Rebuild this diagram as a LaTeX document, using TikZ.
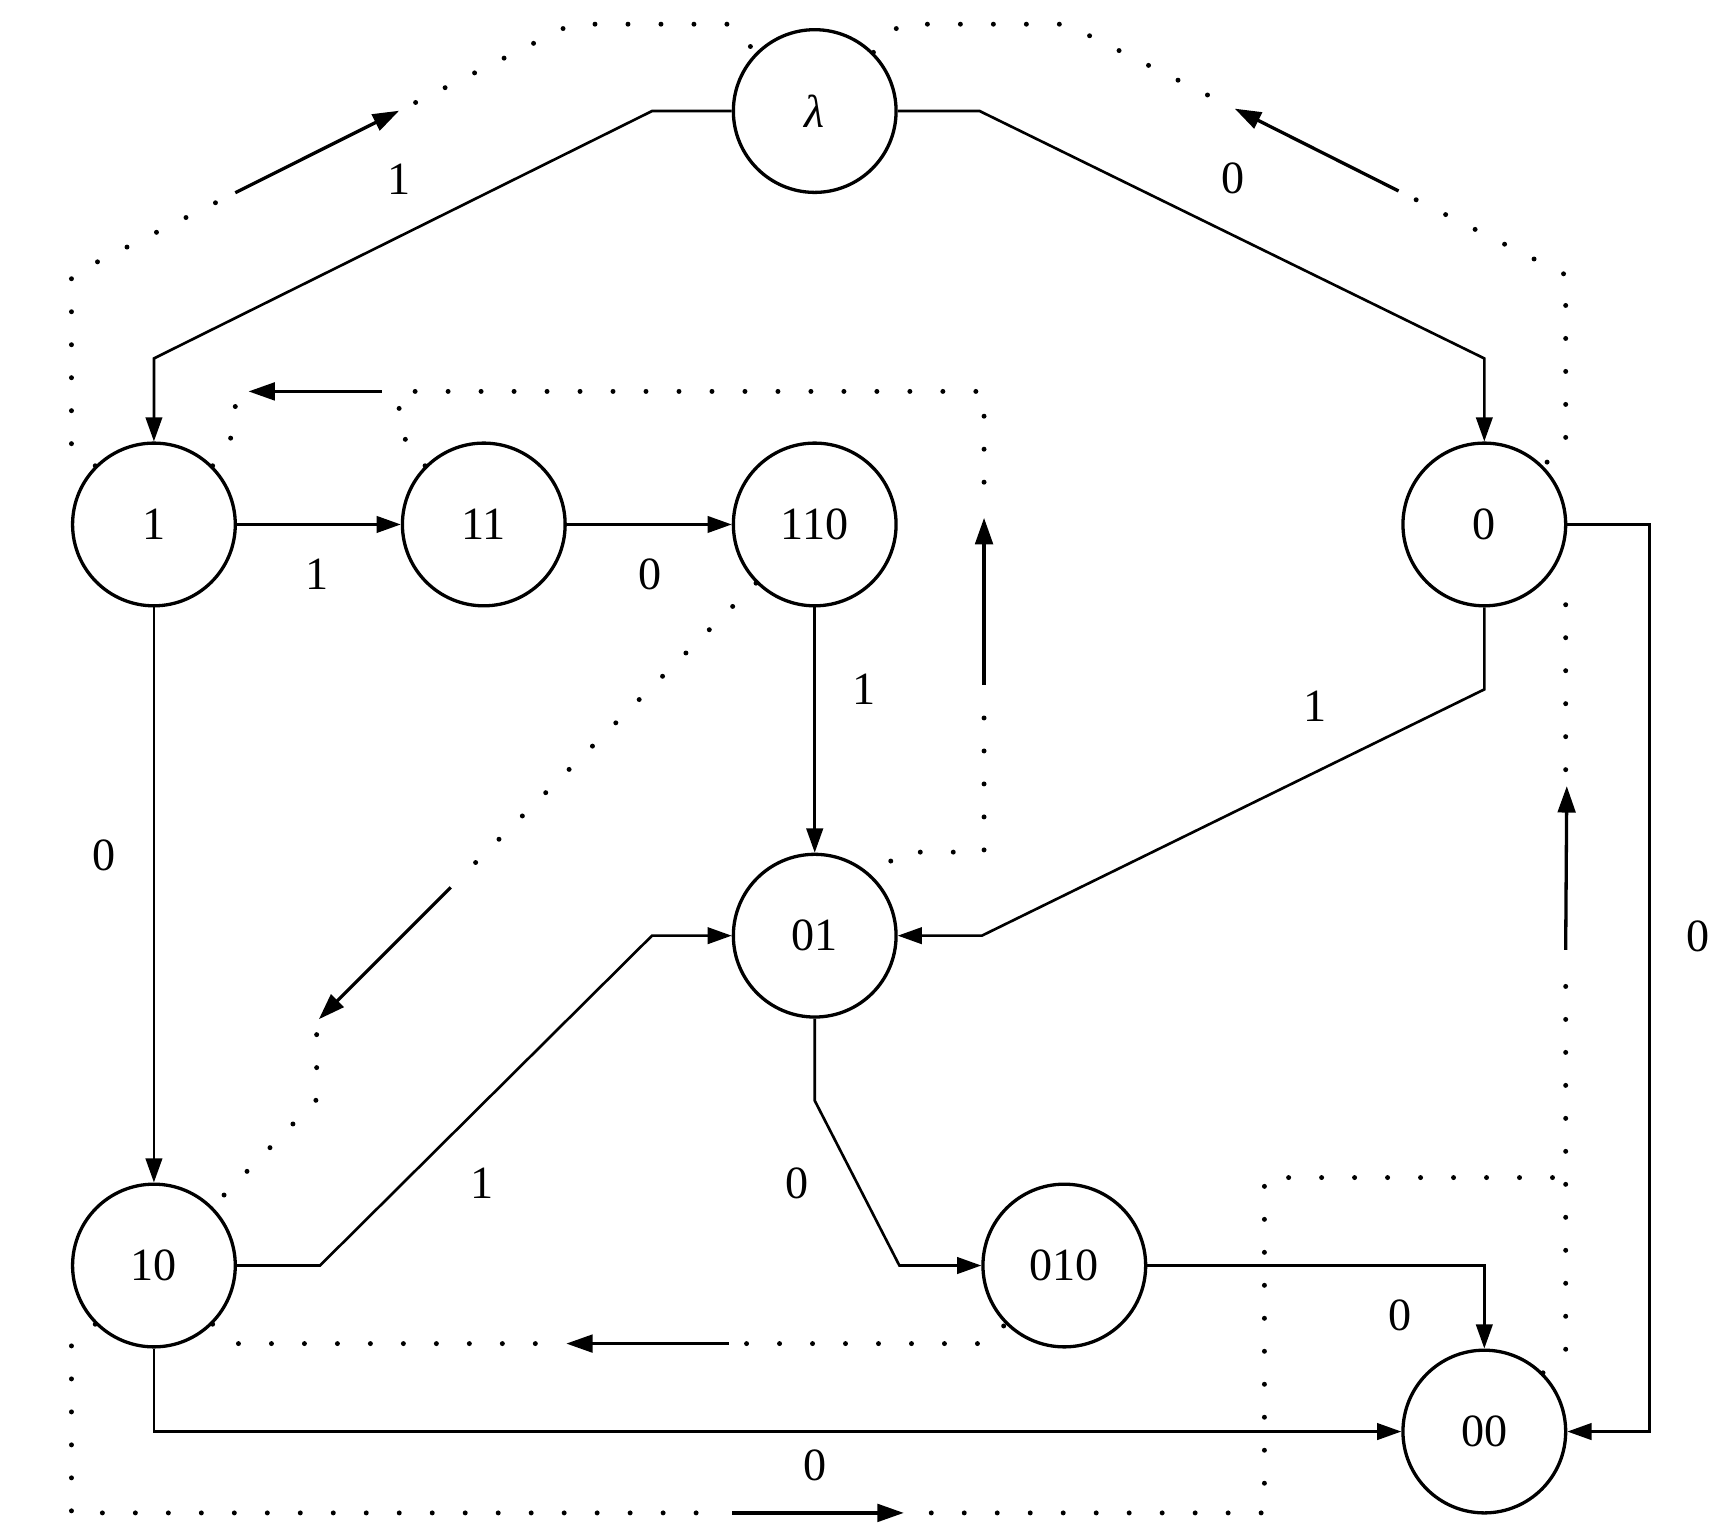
\documentclass[tikz,border=0pt]{standalone}
\usepackage{fontspec}
\setmainfont{Liberation Serif}
\usetikzlibrary{arrows.meta}
\begin{document}
\begin{tikzpicture}[x=1pt,y=-1pt,
  state/.style={draw, circle, line width=3pt, minimum size=148pt, inner sep=0pt, font=\fontsize{42}{50}\selectfont},
  edge/.style={line width=2.4pt, -{Triangle[length=22pt,width=15pt]}},
  lbl/.style={font=\fontsize{42}{50}\selectfont, inner sep=0pt},
  dots/.style={line width=4.5pt, line cap=round, dash pattern=on 0pt off 30pt},
  flow/.style={line width=3pt, -{Triangle[length=24pt,width=16pt]}}]
\useasboundingbox (0,0) rectangle (1568,1397);

% states
\node[state] (lam)  at (741,101)  {\itshape λ};
\node[state] (n1)   at (140,477)  {1};
\node[state] (n11)  at (440,477)  {11};
\node[state] (n110) at (741,477)  {110};
\node[state] (n0)   at (1350,477) {0};
\node[state] (n01)  at (741,851)  {01};
\node[state] (n10)  at (140,1151) {10};
\node[state] (n010) at (968,1151) {010};
\node[state] (n00)  at (1350,1302) {00};

% transitions
\draw[edge] (lam.west) -- (593,101) -- (140,326) -- (n1.north);
\draw[edge] (lam.east) -- (891,101) -- (1350,326) -- (n0.north);
\draw[edge] (n1.east) -- (n11.west);
\draw[edge] (n11.east) -- (n110.west);
\draw[edge] (n110.south) -- (n01.north);
\draw[edge] (n0.south) -- (1350,627) -- (893,851) -- (n01.east);
\draw[edge] (n1.south) -- (n10.north);
\draw[edge] (n10.east) -- (291,1151) -- (593,851) -- (n01.west);
\draw[edge] (n01.south) -- (741,1001) -- (818,1151) -- (n010.west);
\draw[edge] (n010.east) -- (1350,1151) -- (n00.north);
\draw[edge] (n10.south) -- (140,1302) -- (n00.west);
\draw[edge] (n0.east) -- (1500,477) -- (1500,1302) -- (n00.east);

% transition labels
\node[lbl] (t1)  at (363,163)  {1};
\node[lbl] (t2)  at (1121,162) {0};
\node[lbl] (t3)  at (288,522)  {1};
\node[lbl] (t4)  at (591,522)  {0};
\node[lbl] (t5)  at (786,627)  {1};
\node[lbl] (t6)  at (1196,642) {1};
\node[lbl] (t7)  at (95,778)   {0};
\node[lbl] (t8)  at (438,1076) {1};
\node[lbl] (t9)  at (725,1076) {0};
\node[lbl] (t10) at (1273,1196) {0};
\node[lbl] (t11) at (741,1333) {0};
\node[lbl] (t12) at (1544,852) {0};

% dotted cycles: outer top
\draw[dots] (n1.135) -- (65,405) -- (65,250) -- (200,182.4);
\draw[flow] (214,175.3) -- (363,100.7);
\draw[dots] (378,93.2) -- (520,22) -- (663,22) -- (lam.135);
\draw[dots] (lam.45) -- (819,22) -- (970,22) -- (1108,91.3);
\draw[flow] (1272,173.7) -- (1123,98.8);
\draw[dots] (1288,181.7) -- (1424,250) -- (1424,405) -- (n0.45);

% inner top
\draw[dots] (n1.45) -- (214,392) -- (214,356);
\draw[flow] (347,356) -- (226,356);
\draw[dots] (n11.135) -- (363,392) -- (363,356) -- (895,356) -- (895,445);
\draw[flow] (895,623) -- (895,471);
\draw[dots] (895,653) -- (895,775) -- (819,775) -- (n01.45);

% diagonal
\draw[dots] (n110.225) -- (420,797);
\draw[flow] (410,807) -- (290,927);
\draw[dots] (288,941) -- (288,1000) -- (n10.45);

% inner bottom
\draw[dots] (n10.-45) -- (214,1222) -- (505,1222);
\draw[flow] (663,1222) -- (515,1222);
\draw[dots] (679,1222) -- (895,1222) -- (n010.225);

% outer bottom
\draw[dots] (n10.225) -- (65,1222) -- (65,1376) -- (650,1376);
\draw[flow] (666,1376) -- (822,1376);
\draw[dots] (847,1376) -- (1150,1376) -- (1150,1071) -- (1424,1071);
\draw[dots] (n00.45) -- (1424,1228) -- (1424,880);
\draw[flow] (1424,864) -- (1425,715);
\draw[dots] (1424,700) -- (1424,550) -- (n0.315);
\end{tikzpicture}
\end{document}
